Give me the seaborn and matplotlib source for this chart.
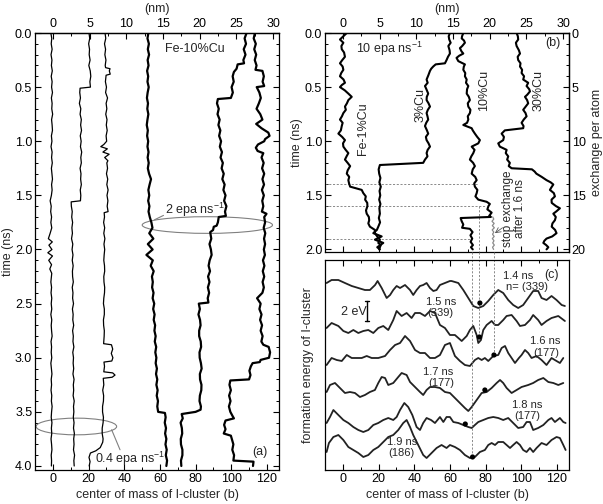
import matplotlib
matplotlib.use("Agg")
import matplotlib.pyplot as plt
import pandas as pd
import seaborn as sns
from matplotlib.patches import Ellipse
from matplotlib.ticker import MultipleLocator, FormatStrFormatter

# ---------------- data: panel (a)  (time ns, centre of mass in b) ----------------
A1 = [(0.0,-1.2),(0.05,-0.7),(0.1,-1.0),(0.15,-0.5),(0.2,-1.1),(0.25,-0.6),(0.3,-0.9),(0.35,-0.4),(0.4,-1.0),(0.45,-0.5),
      (0.5,-0.8),(0.55,-0.3),(0.6,-0.9),(0.65,-0.5),(0.7,-0.7),(0.75,-0.2),(0.8,-0.8),(0.85,-0.5),(0.9,-0.3),(0.95,-0.9),
      (1.0,-0.6),(1.05,-1.1),(1.1,-0.5),(1.15,-0.8),(1.2,-0.4),(1.25,-0.9),(1.3,-0.6),(1.35,-0.3),(1.4,-0.8),(1.45,-0.5),
      (1.5,-0.9),(1.55,-1.6),(1.6,-1.0),(1.65,-1.3),(1.7,-0.8),(1.75,-1.2),(1.8,-0.7),(1.85,-1.6),(1.9,-2.6),(1.93,-0.4),
      (1.96,-2.3),(2.0,-0.6),(2.03,-2.9),(2.06,-0.3),(2.1,-2.4),(2.14,-0.8),(2.18,-1.8),(2.22,-0.7),(2.3,-1.2),(2.35,-0.8),
      (2.4,-1.1),(2.45,-0.7),(2.5,-1.0),(2.55,-0.7),(2.6,-1.2),(2.65,-0.7),(2.7,-1.0),(2.75,-0.8),(2.8,-0.5),(2.85,-1.1),
      (2.9,-0.8),(2.95,-1.0),(3.0,-0.7),(3.05,-1.2),(3.1,-0.9),(3.15,-0.6),(3.2,-1.0),(3.25,-0.8),(3.3,-1.1),(3.35,-0.7),
      (3.4,-0.9),(3.45,-0.5),(3.5,-0.8),(3.55,-1.0),(3.6,-0.6),(3.65,-0.9),(3.7,-0.7),(3.75,-1.1),(3.8,-0.8),(3.85,-0.6),
      (3.9,-1.0),(3.95,-0.8),(4.0,-0.9)]
A2 = [(0.0,20.2),(0.05,20.6),(0.1,20.0),(0.15,20.5),(0.2,20.3),(0.25,20.8),(0.3,20.1),(0.35,20.9),(0.4,21.2),(0.45,20.7),
      (0.5,21.0),(0.51,15.2),(0.55,15.0),(0.6,15.4),(0.65,14.8),(0.7,15.6),(0.75,15.2),(0.8,15.9),(0.85,15.5),(0.9,16.0),
      (0.95,15.3),(1.0,15.8),(1.05,15.4),(1.1,16.1),(1.15,15.6),(1.2,15.9),(1.25,15.2),(1.3,15.7),(1.35,15.5),(1.4,15.9),
      (1.45,15.3),(1.5,15.6),(1.55,15.4),(1.56,10.2),(1.6,10.3),(1.65,10.8),(1.7,10.5),(1.75,11.0),(1.8,10.6),(1.85,10.9),
      (1.9,10.4),(1.95,11.1),(2.0,10.7),(2.05,11.2),(2.1,10.8),(2.15,11.3),(2.2,10.9),(2.25,11.0),(2.3,11.4),(2.35,10.8),
      (2.4,11.2),(2.45,11.0),(2.5,11.5),(2.55,10.9),(2.6,11.3),(2.65,11.1),(2.7,11.6),(2.75,11.0),(2.8,11.4),(2.85,11.2),
      (2.9,11.7),(2.95,11.1),(3.0,11.5),(3.05,11.3),(3.1,11.6),(3.15,11.2),(3.2,11.8),(3.25,11.4),(3.3,11.6),(3.35,11.3),
      (3.4,11.9),(3.45,11.5),(3.5,11.7),(3.55,11.4),(3.6,11.8),(3.65,11.5),(3.7,12.0),(3.75,11.6),(3.8,11.8),(3.85,11.5),
      (3.9,12.1),(3.95,11.7),(4.0,11.9)]
A3 = [(0.0,29.2),(0.05,29.6),(0.1,28.9),(0.15,29.5),(0.2,29.1),(0.25,29.7),(0.3,29.3),(0.32,29.5),(0.33,32.0),(0.35,31.6),
      (0.38,32.1),(0.39,29.8),(0.45,29.4),(0.5,30.0),(0.55,29.5),(0.6,30.6),(0.65,29.8),(0.7,30.2),(0.75,29.6),(0.8,30.3),
      (0.85,29.9),(0.9,30.4),(0.95,29.8),(1.0,30.1),(1.03,28.5),(1.05,26.8),(1.07,30.5),(1.1,28.0),(1.12,31.5),(1.15,29.0),
      (1.18,30.8),(1.2,30.2),(1.25,30.6),(1.3,30.0),(1.35,30.7),(1.4,30.2),(1.45,30.9),(1.5,30.3),(1.55,30.8),(1.6,30.4),
      (1.65,30.9),(1.66,28.7),(1.7,28.9),(1.75,28.4),(1.8,29.0),(1.85,28.5),(1.9,29.1),(1.95,28.6),(2.0,29.0),(2.05,28.7),
      (2.1,28.5),(2.15,28.9),(2.2,29.0),(2.25,28.5),(2.3,28.6),(2.35,29.0),(2.4,28.9),(2.45,28.5),(2.5,28.3),(2.55,28.8),
      (2.6,28.8),(2.65,28.3),(2.7,28.4),(2.75,28.8),(2.8,28.7),(2.87,28.4),(2.88,32.8),(2.92,33.5),
      (2.96,32.7),(3.0,33.6),(3.03,33.0),(3.04,28.6),(3.08,28.9),(3.13,28.5),(3.14,33.5),(3.16,34.8),(3.18,33.2),(3.19,28.2),
      (3.25,28.5),(3.3,27.9),(3.35,28.4),(3.4,28.3),(3.45,27.8),(3.5,27.8),(3.55,28.3),(3.6,28.1),(3.65,27.6),(3.7,27.6),
      (3.75,28.1),(3.78,27.9),(3.83,26.5),(3.86,24.0),(3.88,21.0),(3.92,20.2),(3.96,20.8),(4.0,20.3)]
A4 = [(0.0,53.5),(0.05,53.0),(0.1,53.8),(0.15,53.2),(0.2,53.9),(0.25,53.1),(0.3,53.6),(0.35,52.8),(0.4,53.4),(0.45,53.0),
      (0.5,53.7),(0.55,53.1),(0.6,52.7),(0.65,53.3),(0.7,52.9),(0.75,53.5),(0.8,53.0),(0.85,52.6),(0.9,53.2),(0.95,52.8),
      (1.0,53.4),(1.05,53.0),(1.1,53.6),(1.15,53.1),(1.2,53.7),(1.25,53.2),(1.3,53.9),(1.35,55.0),(1.4,54.2),(1.45,53.5),
      (1.5,54.0),(1.55,53.4),(1.6,54.1),(1.65,53.6),(1.7,54.3),(1.75,55.2),(1.8,55.8),(1.85,54.0),(1.9,56.3),(1.95,53.2),
      (2.0,55.9),(2.05,52.4),(2.1,56.0),(2.15,54.8),(2.2,56.5),(2.25,55.5),(2.3,56.0),(2.35,55.6),(2.4,56.4),(2.45,55.9),
      (2.5,56.8),(2.55,56.2),(2.6,57.0),(2.65,56.5),(2.7,57.3),(2.75,56.9),(2.8,57.6),(2.85,57.1),(2.9,57.9),(2.95,57.4),
      (3.0,58.0),(3.05,57.6),(3.1,58.3),(3.15,57.8),(3.2,58.5),(3.25,58.0),(3.3,58.7),(3.35,58.2),(3.4,58.9),(3.45,58.5),
      (3.5,59.0),(3.51,62.8),(3.55,63.2),(3.6,62.7),(3.65,63.4),(3.7,62.9),(3.75,63.6),(3.8,63.1),(3.85,63.8),(3.9,63.3),
      (3.95,64.0),(4.0,63.6)]
A5 = [(0.0,108.6),(0.05,107.5),(0.1,108.3),(0.15,107.0),(0.2,108.0),(0.25,106.8),(0.28,107.2),(0.29,103.6),(0.33,103.0),
      (0.36,101.5),(0.4,100.8),(0.45,101.4),(0.5,100.2),(0.55,100.9),(0.6,99.8),(0.61,92.5),(0.65,92.0),(0.7,93.0),
      (0.75,92.3),(0.8,93.5),(0.85,92.8),(0.9,93.9),(0.95,93.2),(1.0,94.3),(1.05,93.6),(1.1,94.8),(1.15,94.0),(1.2,95.3),
      (1.25,94.6),(1.3,95.8),(1.35,95.0),(1.4,96.3),(1.45,95.6),(1.5,96.8),(1.55,96.0),(1.6,97.3),(1.65,96.5),(1.69,97.0),
      (1.7,93.0),(1.75,92.5),(1.78,91.8),(1.79,90.2),(1.82,89.8),(1.84,88.2),(1.9,88.8),(1.95,87.8),(2.0,88.6),(2.05,89.0),
      (2.1,87.9),(2.15,87.3),(2.2,88.1),(2.25,87.0),(2.3,87.8),(2.35,86.9),(2.4,87.6),(2.45,86.8),(2.49,87.2),(2.5,81.8),
      (2.55,82.4),(2.6,81.6),(2.65,82.5),(2.7,82.8),(2.75,82.0),(2.8,82.0),(2.85,82.9),(2.9,83.1),(2.95,82.2),(3.0,82.3),
      (3.05,83.0),(3.1,83.4),(3.15,82.4),(3.2,82.5),(3.25,83.3),(3.3,83.2),(3.35,82.4),(3.4,82.2),(3.45,83.0),(3.48,82.8),
      (3.5,80.0),(3.52,72.2),(3.56,72.8),(3.6,71.6),(3.65,72.3),(3.7,72.5),(3.75,71.7),(3.8,71.8),(3.85,72.6),(3.9,72.6),
      (3.95,71.8),(4.0,72.0)]
A6 = [(0.0,113.3),(0.05,112.6),(0.1,113.8),(0.15,112.9),(0.2,114.0),(0.25,113.2),(0.3,114.2),(0.34,113.6),(0.35,117.5),
      (0.4,118.3),(0.45,117.6),(0.49,118.5),(0.5,114.3),(0.55,115.8),(0.6,116.6),(0.65,115.5),(0.7,114.2),(0.75,116.3),
      (0.8,117.5),(0.84,114.0),(0.88,117.0),(0.92,120.8),(0.95,121.5),(0.98,119.0),(1.0,118.5),(1.03,115.0),(1.06,113.8),
      (1.09,114.8),(1.11,118.0),(1.15,117.0),(1.2,118.2),(1.25,117.3),(1.3,118.5),(1.35,117.5),(1.4,118.4),(1.45,117.2),
      (1.5,118.3),(1.55,117.4),(1.6,118.0),(1.65,117.2),(1.67,119.8),(1.7,118.5),(1.75,119.0),(1.8,118.2),(1.85,119.1),
      (1.9,118.4),(1.95,119.0),(2.0,118.3),(2.05,118.9),(2.1,117.8),(2.15,118.6),(2.2,117.7),(2.25,118.5),(2.3,117.6),
      (2.35,118.3),(2.4,117.5),(2.45,114.5),(2.5,116.5),(2.55,115.8),(2.6,117.0),(2.65,116.2),(2.7,117.3),(2.75,116.5),
      (2.8,117.6),(2.85,116.9),(2.88,118.0),(2.9,121.0),(2.95,121.8),(3.0,121.2),(3.02,116.5),(3.04,116.0),(3.05,112.0),
      (3.08,111.0),(3.12,110.2),(3.16,110.8),(3.2,110.0),(3.21,99.5),(3.25,99.0),(3.3,99.8),(3.35,98.8),(3.4,99.6),
      (3.45,98.7),(3.5,99.5),(3.54,100.8),(3.56,101.5),(3.58,96.8),(3.62,96.0),(3.66,96.8),(3.7,95.8),(3.72,99.8),
      (3.76,100.5),(3.8,101.2),(3.85,100.6),(3.9,101.6),(3.95,101.2),(3.96,112.5),(4.0,112.2)]

# ---------------- data: panel (b) ----------------
B_FE1 = [(0,2.1),(0.03,0.2),(0.06,-1.7),(0.09,0.2),(0.12,-0.9),(0.15,-0.7),(0.18,0.6),(0.22,1.1),(0.25,-0.4),(0.28,-1.7),
         (0.31,-0.2),(0.34,0.2),(0.37,-1.0),(0.40,-1.7),(0.43,0.3),(0.46,1.1),(0.48,-0.6),(0.50,-1.7),(0.53,1.0),(0.56,3.0),
         (0.59,4.9),(0.62,3.0),(0.65,2.2),(0.68,1.1),(0.71,1.6),(0.74,0.2),(0.77,-0.6),(0.80,-1.7),(0.83,-0.2),(0.86,-0.7),
         (0.90,-1.2),(0.93,-2.6),(0.96,-0.5),(0.99,1.1),(1.02,0.0),(1.05,0.2),(1.08,1.5),(1.11,3.0),(1.14,2.0),(1.17,1.1),
         (1.20,2.6),(1.23,4.0),(1.27,2.6),(1.30,2.1),(1.33,3.5),(1.36,3.0),(1.39,3.4),(1.42,4.0),(1.45,10.5),(1.48,11.4),
         (1.51,12.8),(1.54,12.4),(1.57,13.6),(1.60,13.7),(1.64,12.9),(1.67,13.3),(1.70,14.5),(1.73,14.7),(1.76,14.2),(1.79,15.1),
         (1.82,17.9),(1.85,17.9),(1.88,19.2),(1.91,20.7),(1.94,19.8),(1.96,21.2),(1.98,20.7),(2.0,20.3)]
B_CU3 = [(0,60.0),(0.03,59.3),(0.06,59.6),(0.09,60.4),(0.12,59.1),(0.16,59.8),(0.19,60.0),(0.22,58.9),(0.25,58.1),(0.28,57.2),
         (0.29,52.0),(0.31,50.6),(0.33,49.5),(0.35,48.8),(0.39,47.9),(0.43,46.9),(0.46,47.5),(0.49,46.0),(0.52,46.8),(0.56,47.8),
         (0.59,47.0),(0.62,46.9),(0.65,48.0),(0.68,48.8),(0.71,47.6),(0.74,46.9),(0.77,47.4),(0.80,47.8),(0.83,46.7),(0.86,46.0),
         (0.90,47.1),(0.93,47.8),(0.96,46.5),(0.99,46.9),(1.02,48.0),(1.05,48.8),(1.08,47.5),(1.11,46.9),(1.14,47.4),(1.17,46.0),
         (1.20,45.0),(1.22,20.7),(1.26,20.0),(1.30,20.3),(1.34,21.0),(1.38,20.4),(1.42,21.2),(1.46,20.5),(1.50,20.9),(1.54,20.3),
         (1.58,21.0),(1.62,20.4),(1.67,20.7),(1.71,20.1),(1.75,20.8),(1.79,19.8),(1.82,19.0),(1.85,17.0),(1.88,21.7),(1.91,17.9),
         (1.94,22.6),(1.98,19.2),(2.0,20.7)]
B_CU10 = [(0,67.5),(0.03,66.8),(0.05,66.6),(0.07,67.9),(0.09,68.4),(0.12,66.9),(0.14,65.6),(0.17,66.5),(0.19,67.5),(0.21,65.2),
          (0.23,63.7),(0.26,64.7),(0.29,68.4),(0.31,67.8),(0.34,67.5),(0.37,68.6),(0.40,68.4),(0.43,69.4),(0.46,69.0),(0.49,70.3),
          (0.52,69.6),(0.56,69.4),(0.59,70.6),(0.62,71.2),(0.65,70.0),(0.68,70.3),(0.71,71.5),(0.74,71.2),(0.77,70.0),(0.80,70.3),
          (0.83,69.6),(0.85,67.5),(0.88,72.2),(0.90,72.8),(0.93,74.0),(0.96,75.3),(0.99,76.8),(1.02,75.9),(1.05,72.2),(1.08,73.8),
          (1.11,73.1),(1.14,72.0),(1.17,71.2),(1.20,73.0),(1.23,74.0),(1.26,72.8),(1.30,72.2),(1.33,74.2),(1.36,75.0),(1.39,73.6),
          (1.42,74.0),(1.45,75.4),(1.48,75.0),(1.51,74.3),(1.54,75.9),(1.56,80.6),(1.58,82.4),(1.60,81.6),(1.63,81.0),(1.66,83.4),
          (1.69,82.0),(1.70,83.0),(1.71,66.0),(1.74,66.6),(1.77,67.5),(1.80,66.8),(1.81,71.2),(1.84,72.7),(1.87,71.5),(1.90,72.5),
          (1.93,71.6),(1.96,72.9),(1.98,71.8),(2.0,72.8)]
B_CU30 = [(0,97.4),(0.03,98.1),(0.06,98.3),(0.09,97.0),(0.12,97.4),(0.16,98.7),(0.19,99.3),(0.22,98.0),(0.25,98.3),(0.28,99.6),
          (0.31,99.3),(0.34,100.5),(0.37,100.2),(0.40,101.6),(0.43,101.1),(0.46,103.9),(0.49,103.0),(0.52,104.5),(0.54,104.9),
          (0.57,103.4),(0.59,102.1),(0.62,103.3),(0.65,103.9),(0.68,102.5),(0.71,101.1),(0.74,102.4),(0.77,103.0),(0.80,101.4),
          (0.83,100.2),(0.86,101.3),(0.88,101.1),(0.90,90.8),(0.93,89.0),(0.96,90.3),(0.99,89.9),(1.02,87.1),(1.05,88.0),
          (1.08,91.8),(1.11,91.3),(1.14,92.7),(1.17,92.1),(1.20,93.6),(1.23,93.0),(1.25,94.6),(1.26,106.0),(1.28,107.5),
          (1.30,108.5),(1.33,111.5),(1.36,114.2),(1.38,116.5),(1.40,118.0),(1.43,116.8),(1.45,116.1),(1.48,118.3),(1.51,118.9),
          (1.54,117.0),(1.57,117.1),(1.60,119.5),(1.62,121.7),(1.65,119.6),(1.67,118.0),(1.70,119.4),(1.73,118.9),(1.76,117.5),
          (1.79,117.1),(1.82,119.0),(1.85,119.8),(1.88,117.4),(1.90,114.2),(1.92,113.0),(1.94,112.4),(1.96,114.0),(1.98,115.2),
          (2.0,114.2)]
B_STOP = [(1.70,84.0),(1.72,84.6),(1.74,83.6),(1.76,84.8),(1.78,83.8),(1.80,84.9),(1.82,83.7),(1.84,84.6),(1.86,83.9),
          (1.88,84.8),(1.90,83.8),(1.92,84.7),(1.94,84.0),(1.96,84.9),(1.98,83.9),(2.0,84.5)]
B_HLINES = [(1.4, 76.0), (1.6, 80.0), (1.9, 71.0)]   # time, right end (b)

# ---------------- data: panel (c)  (b, energy offset in eV) ----------------
C14 = [(-9.2,18.7),(-6.4,19.0),(-2.6,19.0),(1.1,18.7),(4.9,18.4),(8.6,18.2),(12.3,18.0),(15.1,18.0),(18.0,18.5),(19.4,18.9),
       (21.7,18.2),(24.5,17.2),(26.4,17.5),(28.2,18.0),(30.1,18.4),(32.0,18.2),(34.8,18.5),(37.6,18.0),(39.4,17.5),(41.3,18.0),
       (43.2,18.4),(45.0,18.5),(46.9,18.7),(48.8,18.2),(50.7,17.9),(52.5,18.0),(54.4,18.5),(57.2,18.7),(60.0,18.9),(60.9,18.9),
       (64.7,18.7),(67.5,18.0),(70.3,17.2),(73.1,16.4),(75.9,16.2),(78.7,16.4),(81.5,16.9),(84.3,17.5),(87.1,18.0),(89.9,17.7),
       (92.7,17.0),(95.5,16.5),(98.3,16.2),(101.1,16.5),(103.9,17.2),(106.7,17.9),(109.5,17.9),(111.4,17.2),(114.2,17.0),
       (117.0,17.4),(119.8,17.0),(122.7,16.5),(124.5,16.4)]
C15 = [(-9.2,14.2),(-6.4,14.7),(-2.6,14.4),(0.2,13.9),(3.0,13.7),(5.8,14.0),(8.6,13.7),(11.4,13.9),(14.2,14.0),(17.0,13.7),
       (19.8,14.2),(22.6,14.4),(25.4,14.0),(28.2,15.0),(30.1,15.9),(32.9,15.4),(35.7,15.7),(38.5,15.2),(40.4,15.7),(43.2,15.7),
       (46.0,15.4),(48.8,15.9),(51.6,15.7),(54.4,14.5),(57.2,14.2),(60.0,13.5),(62.8,13.5),(66.6,12.9),(69.4,13.4),(71.2,14.0),
       (73.1,14.4),(75.0,13.5),(75.9,12.7),(77.4,13.0),(78.7,14.0),(80.6,14.5),(83.4,14.9),(85.3,14.5),(87.1,14.5),(89.9,15.0),
       (91.8,15.4),(94.6,15.5),(97.4,14.9),(99.3,14.4),(102.1,14.5),(104.9,15.0),(106.7,15.5),(109.5,15.0),(111.4,14.5),
       (114.2,14.9),(117.0,15.2),(120.8,15.4),(124.5,14.9)]
C16 = [(-9.2,10.5),(-6.4,11.2),(-3.5,11.0),(-0.7,10.9),(2.1,11.5),(4.9,11.2),(7.7,11.2),(10.5,11.2),(13.3,11.4),(16.1,11.2),
       (19.8,11.2),(23.6,11.4),(26.4,12.0),(29.2,12.5),(32.0,12.7),(34.8,13.4),(37.6,12.9),(40.4,12.0),(43.2,11.7),(46.0,11.7),
       (48.8,11.2),(51.6,11.2),(54.4,11.5),(57.2,12.5),(60.0,12.7),(62.8,11.4),(65.6,10.9),(68.4,10.5),(71.2,10.4),(74.0,11.0),
       (75.9,11.2),(77.8,11.0),(79.6,11.2),(81.5,10.9),(84.3,11.4),(87.1,11.5),(89.0,12.2),(90.9,12.4),(92.7,11.7),(94.6,11.2),
       (96.5,10.7),(98.7,11.2),(100.2,11.5),(102.1,12.0),(103.9,11.7),(105.8,11.2),(108.6,11.4),(111.4,11.0),(114.2,10.5),
       (117.0,11.2),(119.8,10.9),(121.7,10.7),(123.6,11.2)]
C17 = [(-9.2,7.8),(-7.3,8.5),(-4.5,8.7),(-1.7,8.2),(1.1,7.7),(3.9,7.8),(6.7,7.7),(9.5,7.3),(12.3,7.5),(15.1,7.8),(17.9,8.0),
       (19.8,8.7),(21.7,9.3),(23.6,9.2),(25.4,8.5),(28.2,8.7),(31.0,9.3),(32.9,9.7),(35.7,9.5),(37.6,8.8),(40.4,8.3),(43.2,7.8),
       (45.0,7.5),(46.9,8.0),(48.8,8.3),(51.6,8.3),(54.4,8.2),(57.2,7.8),(60.0,7.7),(62.8,7.2),(65.6,6.7),(68.4,6.2),(70.3,5.9),
       (72.2,6.3),(75.0,7.0),(77.8,7.7),(80.6,7.8),(83.4,8.2),(86.2,8.7),(88.1,9.0),(89.9,8.7),(91.8,8.2),(94.6,7.7),(97.4,8.0),
       (100.2,8.3),(103.9,8.5),(106.7,8.7),(109.5,9.0),(112.4,9.2),(115.2,8.8),(118.0,8.7),(120.8,8.5),(123.6,8.7)]
C18 = [(-9.2,4.7),(-7.3,5.3),(-5.4,6.0),(-2.6,5.5),(0.2,5.0),(3.0,4.7),(5.8,4.3),(8.6,4.0),(11.4,3.8),(14.2,4.0),(17.0,4.5),
       (19.8,4.7),(22.6,5.0),(25.4,5.2),(28.2,5.0),(30.1,5.3),(32.0,6.0),(34.4,6.7),(36.6,6.3),(38.9,5.5),(41.3,4.3),(43.2,4.0),
       (45.0,4.7),(46.9,5.2),(49.4,5.0),(51.6,4.7),(54.4,5.3),(56.3,4.8),(58.1,5.3),(60.0,5.3),(61.9,4.8),(64.7,4.7),(67.5,4.5),
       (70.3,4.3),(72.2,4.2),(74.0,4.5),(75.9,4.8),(78.7,5.0),(81.5,5.2),(84.3,5.3),(87.1,5.2),(89.9,5.0),(92.7,5.2),(95.5,4.7),
       (98.3,4.2),(101.1,4.3),(103.0,4.8),(104.9,4.8),(106.7,4.0),(109.5,4.2),(112.4,4.5),(115.2,5.0),(117.0,5.2),(118.9,4.8),
       (121.7,5.2),(123.6,4.8),(124.9,4.7)]
C19 = [(-9.2,1.8),(-7.9,2.7),(-5.4,3.3),(-2.6,3.5),(0.2,3.0),(3.0,2.3),(5.8,2.0),(8.6,1.7),(11.4,1.3),(14.2,1.5),(17.0,2.0),
       (19.8,2.3),(22.6,2.8),(25.4,3.3),(28.2,3.5),(31.0,4.0),(33.8,4.7),(35.7,5.0),(37.6,4.3),(39.4,3.5),(42.2,2.5),(45.0,1.5),
       (46.9,1.2),(49.7,1.7),(52.5,2.2),(55.3,2.5),(58.1,2.2),(60.0,2.5),(62.8,2.3),(65.6,2.0),(68.4,1.5),(71.2,1.2),(74.0,1.3),
       (76.8,1.8),(79.6,2.0),(81.5,2.5),(83.4,2.7),(85.3,2.5),(87.1,2.8),(89.9,2.8),(91.8,2.5),(93.7,2.2),(95.5,2.5),(97.4,2.8),
       (99.3,2.5),(101.1,2.0),(103.0,1.8),(104.9,2.2),(106.7,1.8),(108.6,2.2),(111.4,2.7),(114.2,2.5),(117.0,3.0),(119.8,3.3),
       (121.7,3.2),(123.6,2.5),(124.9,2.0)]
C_DOTS = [(76.8,16.7),(76.5,13.3),(84.7,11.5),(79.6,8.0),(68.6,4.6),(72.7,1.3)]
C_LABELS = [("1.4 ns", 98.3, 19.4), ("n= (339)", 103.0, 18.35),
            ("1.5 ns", 55.3, 16.8), ("(339)", 54.8, 15.7),
            ("1.6 ns", 113.3, 12.85), ("(177)", 113.8, 11.75),
            ("1.7 ns", 53.5, 9.8), ("(177)", 55.3, 8.75),
            ("1.8 ns", 103.4, 6.5), ("(177)", 103.4, 5.4),
            ("1.9 ns", 32.9, 2.8), ("(186)", 32.9, 1.7)]
C_VLINES = [(72.3, 1.3), (76.5, 13.3), (84.7, 11.5)]   # b position, lower end (eV)

NM_PER_B = 0.243
XLIM = (-10.1, 126.8)

# ---------------- style ----------------
sns.set_theme(style="ticks")
plt.rcParams.update({
    "font.family": ["Liberation Sans", "DejaVu Sans"],
    "mathtext.fontset": "custom",
    "mathtext.rm": "Liberation Sans",
    "mathtext.it": "Liberation Sans:italic",
    "mathtext.bf": "Liberation Sans:bold",
    "font.size": 9, "axes.labelsize": 9, "xtick.labelsize": 9, "ytick.labelsize": 9,
    "xtick.direction": "in", "ytick.direction": "in",
    "axes.edgecolor": "black", "axes.linewidth": 0.9,
    "xtick.color": "black", "ytick.color": "black",
    "xtick.major.size": 4, "ytick.major.size": 4,
    "xtick.minor.size": 2, "ytick.minor.size": 2,
    "xtick.major.width": 0.8, "ytick.major.width": 0.8,
    "xtick.minor.width": 0.7, "ytick.minor.width": 0.7,
    "xtick.major.pad": 2.5, "ytick.major.pad": 2.0,
    "axes.labelpad": 2.5,
})

fig = plt.figure(figsize=(6.03, 5.04), dpi=100)
ax_a = fig.add_axes([35/603, 34/504, 244/603, 437/504])
ax_b = fig.add_axes([325/603, 252/504, 244/603, 219/504])
ax_c = fig.add_axes([325/603, 34/504, 244/603, 210/504])


def trace(ax, pts, lw, color="black"):
    df = pd.DataFrame(pts, columns=["t", "b"])
    sns.lineplot(data=df, x="b", y="t", sort=False, estimator=None, ax=ax,
                 color=color, lw=lw)


def curve(ax, pts, lw=1.3):
    df = pd.DataFrame(pts, columns=["b", "E"])
    sns.lineplot(data=df, x="b", y="E", sort=False, estimator=None, ax=ax,
                 color="#222222", lw=lw)


def nm_axis(ax):
    sec = ax.secondary_xaxis("top", functions=(lambda b: b * NM_PER_B, lambda nm: nm / NM_PER_B))
    sec.set_xticks([0, 5, 10, 15, 20, 25, 30])
    sec.xaxis.set_minor_locator(MultipleLocator(2.5))
    sec.tick_params(which="both", direction="in")
    sec.set_xlabel("(nm)", labelpad=4)
    return sec


# ---------------- panel (a) ----------------
for pts, lw in [(A1, 0.9), (A2, 0.9), (A3, 0.9), (A4, 1.6), (A5, 1.6), (A6, 1.6)]:
    trace(ax_a, pts, lw)
ax_a.set_xlim(*XLIM)
ax_a.set_ylim(4.037, 0)
ax_a.xaxis.set_major_locator(MultipleLocator(20))
ax_a.xaxis.set_minor_locator(MultipleLocator(10))
ax_a.yaxis.set_major_locator(MultipleLocator(0.5))
ax_a.yaxis.set_minor_locator(MultipleLocator(0.1))
ax_a.yaxis.set_major_formatter(FormatStrFormatter("%.1f"))
ax_a.tick_params(which="both", top=False, right=True, labelright=False)
ax_a.set_xlabel("center of mass of I-cluster (b)")
ax_a.set_ylabel("time (ns)", labelpad=0.5)
nm_axis(ax_a)
ax_a.add_patch(Ellipse((86.6, 1.774), 73.1, 0.154, fill=False, ec="#808080", lw=0.8))
ax_a.add_patch(Ellipse((13.1, 3.635), 45.2, 0.154, fill=False, ec="#808080", lw=0.8))
ax_a.plot([62, 57], [1.685, 1.725], color="#808080", lw=0.8)
ax_a.plot([32.9, 37.6], [3.665, 3.85], color="#808080", lw=0.8)
ax_a.text(79.6, 1.63, "2 epa ns$^{-1}$", ha="center", va="center")
ax_a.text(43.5, 3.93, "0.4 epa ns$^{-1}$", ha="center", va="center")
ax_a.text(79.6, 0.15, "Fe-10%Cu", ha="center", va="center")
ax_a.text(116, 3.87, "(a)", ha="center", va="center")

# ---------------- panel (b) ----------------
for t, xe in B_HLINES:
    ax_b.plot([XLIM[0], xe], [t, t], color="#777777", lw=0.6, ls=(0, (2.5, 2)))
ax_b.plot([76.5, 76.5], [1.6, 2.03], color="#777777", lw=0.6, ls=(0, (2.5, 2)))
for pts in (B_FE1, B_CU3, B_CU10, B_CU30):
    trace(ax_b, pts, 1.5)
trace(ax_b, B_STOP, 0.9, color="#8a8a8a")
ax_b.set_xlim(*XLIM)
ax_b.set_ylim(2.024, 0)
ax_b.xaxis.set_major_locator(MultipleLocator(20))
ax_b.xaxis.set_minor_locator(MultipleLocator(10))
ax_b.yaxis.set_major_locator(MultipleLocator(0.5))
ax_b.yaxis.set_minor_locator(MultipleLocator(0.1))
ax_b.yaxis.set_major_formatter(FormatStrFormatter("%.1f"))
ax_b.tick_params(which="both", top=False, right=False, labelbottom=False)
ax_b.set_xlabel("")
ax_b.set_ylabel("time (ns)", labelpad=1)
nm_axis(ax_b)
secy = ax_b.secondary_yaxis("right", functions=(lambda t: t * 10, lambda e: e / 10))
secy.set_yticks([0, 5, 10, 15, 20])
secy.yaxis.set_minor_locator(MultipleLocator(1))
secy.tick_params(which="both", direction="in")
secy.set_ylabel("exchange per atom", labelpad=4)
ax_b.text(25.8, 0.15, "10 epa ns$^{-1}$", ha="center", va="center")
ax_b.text(117.6, 0.095, "(b)", ha="center", va="center")
ax_b.text(11.4, 0.88, "Fe-1%Cu", rotation=90, ha="center", va="center")
ax_b.text(43.6, 0.67, "3%Cu", rotation=90, ha="center", va="center")
ax_b.text(79.3, 0.53, "10%Cu", rotation=90, ha="center", va="center")
ax_b.text(109.5, 0.53, "30%Cu", rotation=90, ha="center", va="center")
ax_b.text(96.0, 1.62, "stop exchange\nafter 1.6 ns", rotation=90, ha="center", va="center",
          fontsize=8.5, linespacing=1.05)
ax_b.annotate("", xy=(85.2, 1.85), xytext=(89.5, 1.80),
              arrowprops=dict(arrowstyle="->", color="#555555", lw=0.6, shrinkA=0, shrinkB=0))

# ---------------- panel (c) ----------------
for pts in (C14, C15, C16, C17, C18, C19):
    curve(ax_c, pts)
for xb, ylo in C_VLINES:
    ax_c.plot([xb, xb], [21.8, ylo], color="#777777", lw=0.6, ls=(0, (2.5, 2)), clip_on=False)
dots = pd.DataFrame(C_DOTS, columns=["b", "E"])
sns.scatterplot(data=dots, x="b", y="E", ax=ax_c, color="black", s=14, edgecolor="none", zorder=5)
for txt, xb, ye in C_LABELS:
    ax_c.text(xb, ye, txt, ha="center", va="center", fontsize=8)
ax_c.text(117.0, 19.5, "(c)", ha="center", va="center")
ax_c.text(6.2, 15.8, "2 eV", ha="center", va="center")
ax_c.plot([13.6, 13.6], [14.9, 16.9], color="black", lw=1.0)
ax_c.plot([12.6, 14.6], [14.9, 14.9], color="black", lw=1.0)
ax_c.plot([12.6, 14.6], [16.9, 16.9], color="black", lw=1.0)
ax_c.set_xlim(*XLIM)
ax_c.set_ylim(0, 21)
ax_c.xaxis.set_major_locator(MultipleLocator(20))
ax_c.xaxis.set_minor_locator(MultipleLocator(10))
ax_c.set_yticks([])
ax_c.tick_params(axis="x", which="both", top=True, labeltop=False)
ax_c.tick_params(axis="y", which="both", left=False, right=False)
ax_c.set_xlabel("center of mass of I-cluster (b)")
ax_c.set_ylabel("formation energy of I-cluster", labelpad=8)

fig.savefig("out.png", dpi=100)
